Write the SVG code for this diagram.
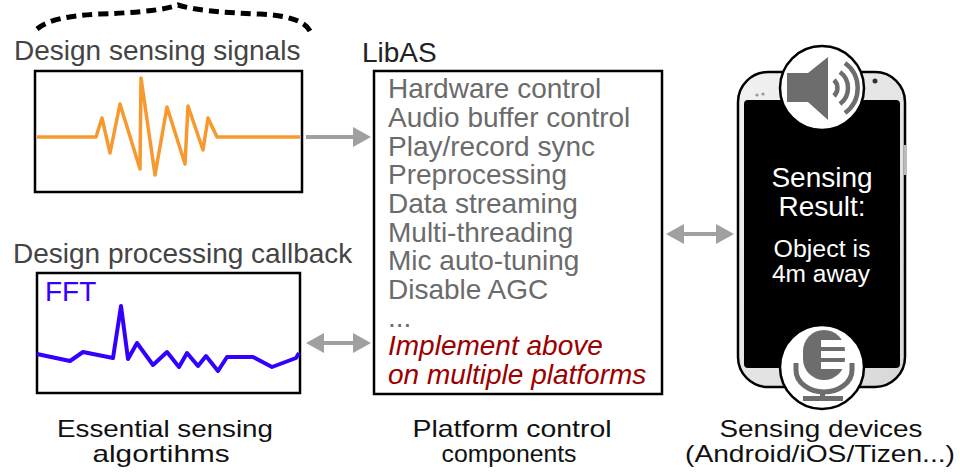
<svg xmlns="http://www.w3.org/2000/svg" width="960" height="472" viewBox="0 0 960 472">
  <defs>
    <style>
      text { font-family: "Liberation Sans", Arial, sans-serif; font-size: 28px; }
      .title { fill: #444444; }
      .item { fill: #6b6b6b; }
      .note { fill: #9a0000; font-style: italic; }
      .caption { fill: #111111; text-anchor: middle; font-size: 24px; }
      .screen { fill: #ffffff; text-anchor: middle; }
      .small { font-size: 23px; }
      .box { fill: #ffffff; stroke: #000000; stroke-width: 2.5; }
      .conn { stroke: #a0a0a0; stroke-width: 4; fill: none; }
      .icon { fill: #6d6d6d; }
      .wave { fill: none; stroke: #6d6d6d; stroke-width: 4.5; }
    </style>
    <marker id="head" viewBox="0 0 18 20" refX="2" refY="10" markerWidth="18" markerHeight="20" markerUnits="userSpaceOnUse" orient="auto-start-reverse">
      <path d="M0,0 L18,10 L0,20 Z" fill="#a0a0a0"/>
    </marker>
    <linearGradient id="body" x1="0" y1="0" x2="1" y2="1">
      <stop offset="0" stop-color="#f2f2f2"/>
      <stop offset="1" stop-color="#d8d8d8"/>
    </linearGradient>
  </defs>

  <!-- dashed brace over the signal design -->
  <path d="M37,29 Q52,16 100,14 Q160,12 178,5 Q200,12 260,14 Q302,16 310,31" fill="none" stroke="#000" stroke-width="5" stroke-dasharray="10,6"/>

  <!-- signal design node -->
  <g id="signal">
    <text class="title" x="14" y="60">Design sensing signals</text>
    <rect class="box" x="35" y="71" width="267" height="121"/>
    <polyline fill="none" stroke="#f7992f" stroke-width="3.5" stroke-linejoin="round"
      points="37,137 96,137 102,118 110,153 120,104 140,169 141,78 155,175 167,107 185,164 188,106 203,150 208,118 217,137 300,137"/>
  </g>

  <!-- processing callback node -->
  <g id="callback">
    <text class="title" x="13" y="263">Design processing callback</text>
    <rect class="box" x="37" y="273" width="263" height="120"/>
    <text x="45" y="301" fill="#3300ff">FFT</text>
    <polyline fill="none" stroke="#3300ff" stroke-width="4" stroke-linejoin="round"
      points="37,354 70,361 83,352 113,358 121,306 128,359 137,343 153,365 167,352 179,367 187,353 198,366 206,356 218,371 227,357 253,357 272,367 296,358 299,353"/>
  </g>

  <!-- LibAS platform components node -->
  <g id="libas">
    <text x="362" y="62" fill="#222222">LibAS</text>
    <rect class="box" x="374" y="71" width="288" height="323"/>
    <text class="item" x="388" y="98">Hardware control</text>
    <text class="item" x="388" y="127">Audio buffer control</text>
    <text class="item" x="388" y="156">Play/record sync</text>
    <text class="item" x="388" y="184">Preprocessing</text>
    <text class="item" x="388" y="213">Data streaming</text>
    <text class="item" x="388" y="242">Multi-threading</text>
    <text class="item" x="388" y="270">Mic auto-tuning</text>
    <text class="item" x="388" y="299">Disable AGC</text>
    <text class="item" x="388" y="327">...</text>
    <text class="note" x="388" y="355">Implement above</text>
    <text class="note" x="388" y="384">on multiple platforms</text>
  </g>

  <!-- sensing device node -->
  <g id="device">
    <rect x="738" y="72" width="167" height="315" rx="30" fill="url(#body)" stroke="#000" stroke-width="2.5"/>
    <rect x="744" y="100" width="156" height="268" rx="4" fill="#000"/>
    <circle cx="757" cy="95" r="1.6" fill="#999"/>
    <circle cx="763" cy="94" r="1.6" fill="#999"/>
    <circle cx="875" cy="81" r="2.5" fill="#333"/>
    <rect x="904" y="145" width="3" height="30" fill="#bbb"/>

    <text class="screen" x="822" y="187">Sensing</text>
    <text class="screen" x="822" y="216">Result:</text>
    <text class="screen small" x="822" y="257" textLength="97" lengthAdjust="spacingAndGlyphs">Object is</text>
    <text class="screen small" x="821" y="282" textLength="98" lengthAdjust="spacingAndGlyphs">4m away</text>

    <!-- speaker badge -->
    <circle cx="822" cy="88" r="42" fill="#fff" stroke="#000" stroke-width="2.5"/>
    <path class="icon" d="M787,73 H808 L828,57 V120 L808,102 H787 Z"/>
    <path class="wave" d="M834,80 A11,11 0 0 1 834,96"/>
    <path class="wave" d="M840,72 A20,20 0 0 1 840,104"/>
    <path class="wave" d="M845,63 A31,31 0 0 1 845,113"/>

    <!-- microphone badge -->
    <circle cx="822" cy="367" r="42" fill="#fff" stroke="#000" stroke-width="2.5"/>
    <rect class="icon" x="803" y="330" width="42" height="50" rx="21"/>
    <rect x="821" y="340" width="25" height="7" fill="#fff"/>
    <rect x="821" y="351" width="25" height="7" fill="#fff"/>
    <rect x="821" y="362" width="25" height="7" fill="#fff"/>
    <path d="M796,363 V370 A28,22 0 0 0 852,370 V363" fill="none" stroke="#6d6d6d" stroke-width="5"/>
    <rect class="icon" x="820" y="391" width="5" height="8"/>
    <rect class="icon" x="803" y="396" width="40" height="5"/>
  </g>

  <!-- connectors -->
  <g id="connectors">
    <line class="conn" x1="306" y1="137" x2="355" y2="137" marker-end="url(#head)"/>
    <line class="conn" x1="322" y1="343" x2="355" y2="343" marker-start="url(#head)" marker-end="url(#head)"/>
    <line class="conn" x1="682" y1="234" x2="718" y2="234" marker-start="url(#head)" marker-end="url(#head)"/>
  </g>

  <!-- captions -->
  <g id="captions">
    <text class="caption" x="165" y="437" textLength="216" lengthAdjust="spacingAndGlyphs">Essential sensing</text>
    <text class="caption" x="161" y="462" textLength="137" lengthAdjust="spacingAndGlyphs">algortihms</text>
    <text class="caption" x="512" y="437" textLength="199" lengthAdjust="spacingAndGlyphs">Platform control</text>
    <text class="caption" x="509" y="462" textLength="135" lengthAdjust="spacingAndGlyphs">components</text>
    <text class="caption" x="821" y="437" textLength="203" lengthAdjust="spacingAndGlyphs">Sensing devices</text>
    <text class="caption" x="820" y="462" textLength="270" lengthAdjust="spacingAndGlyphs">(Android/iOS/Tizen...)</text>
  </g>
</svg>
